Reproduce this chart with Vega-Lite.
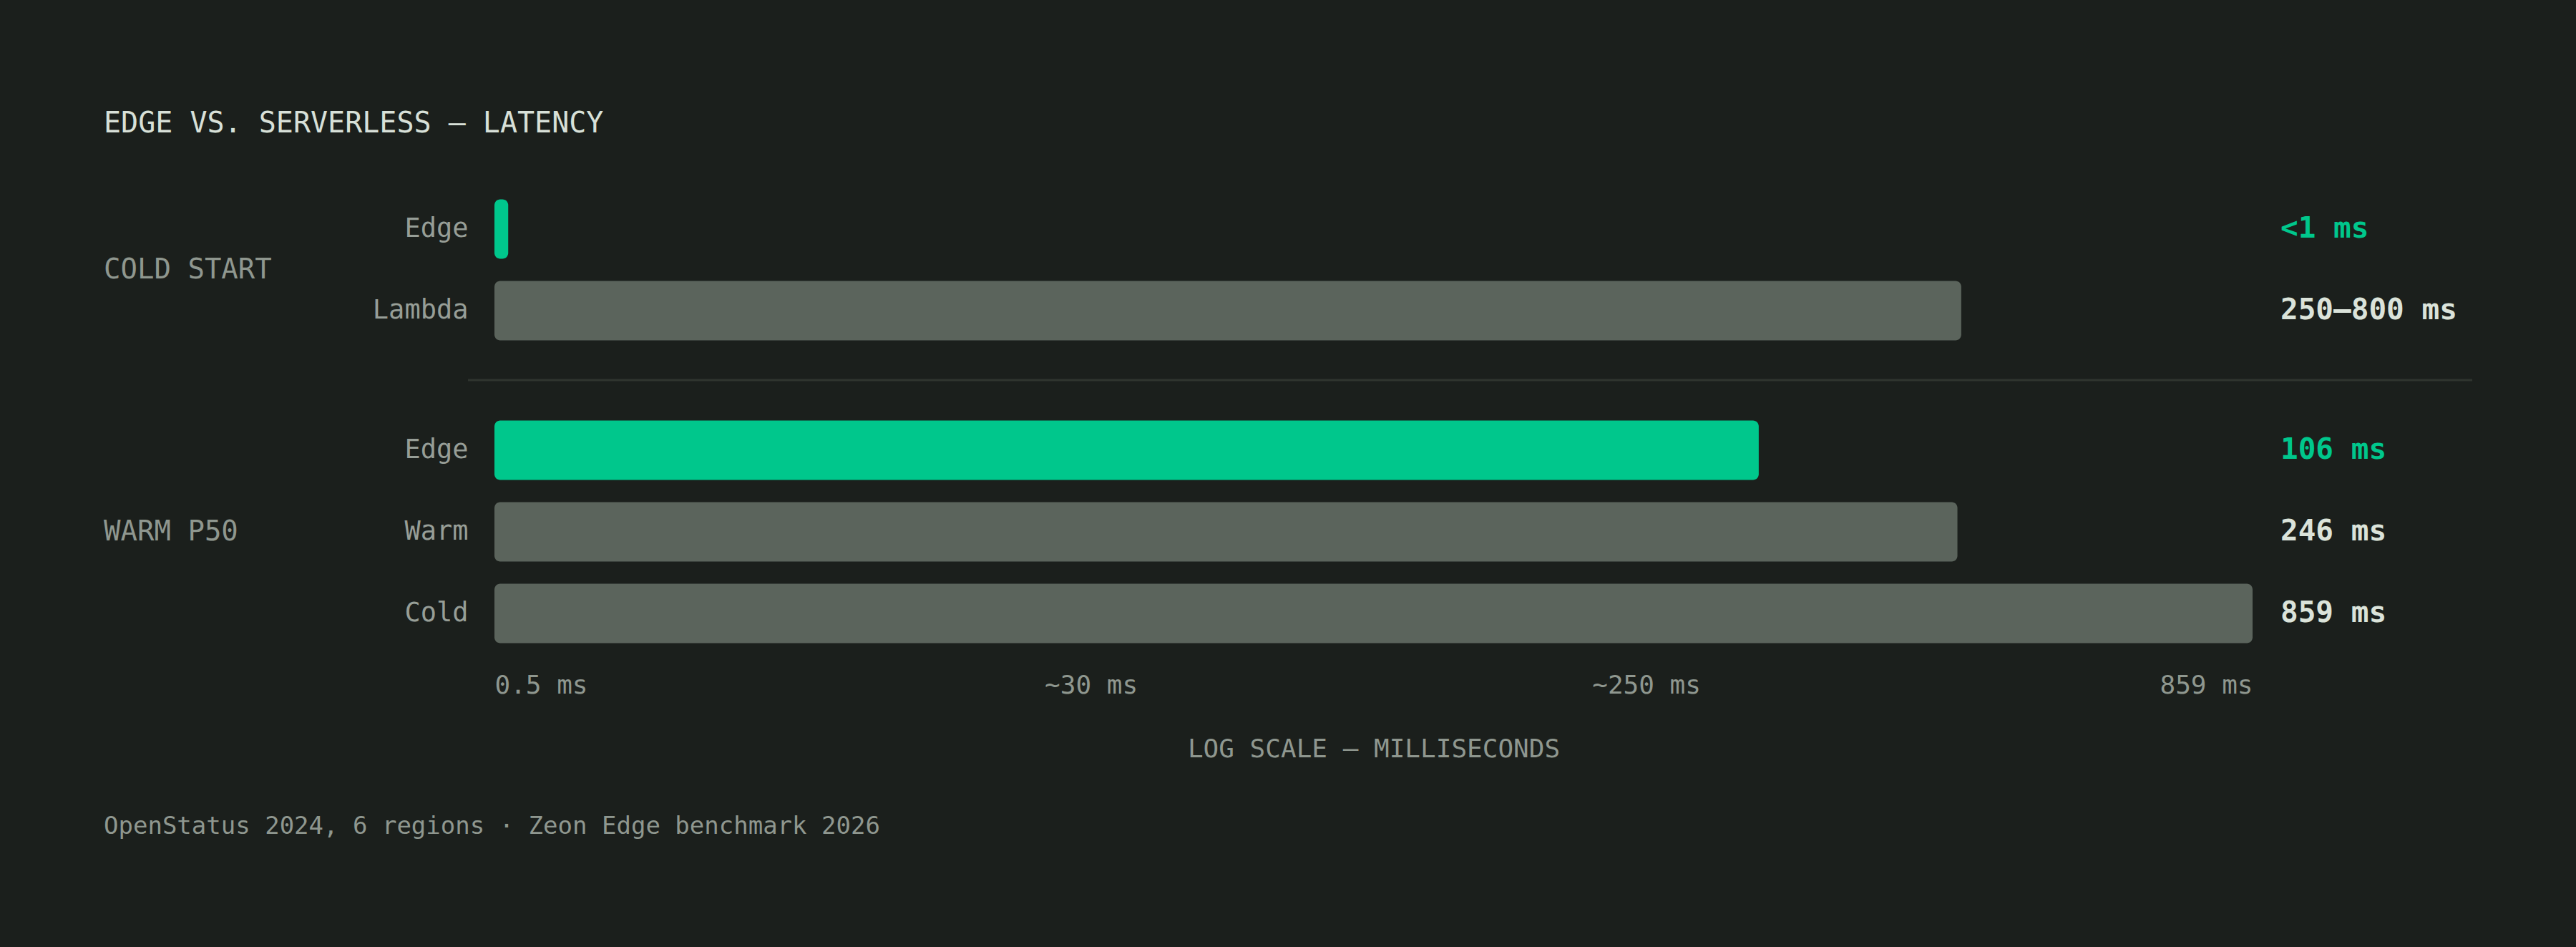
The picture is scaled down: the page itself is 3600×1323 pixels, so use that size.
{
  "$schema": "https://vega.github.io/schema/vega-lite/v6.json",
  "description": "Edge vs. serverless latency, log-scale horizontal bars grouped by cold start and warm p50.",
  "background": "#1b1f1c",
  "padding": {"left": 145, "top": 153, "right": 145, "bottom": 160},
  "title": {
    "text": "EDGE VS. SERVERLESS — LATENCY",
    "anchor": "start",
    "offset": 70,
    "fontSize": 40,
    "fontWeight": "normal",
    "font": "DejaVu Sans Mono",
    "color": "#d8e0d8"
  },
  "data": {
    "values": [
      {"group": "COLD START", "label": "Edge", "kind": "edge", "ms": 0.53, "display": "<1 ms"},
      {"group": "COLD START", "label": "Lambda", "kind": "serverless", "ms": 250, "display": "250–800 ms"},
      {"group": "WARM P50", "label": "Edge", "kind": "edge", "ms": 106, "display": "106 ms"},
      {"group": "WARM P50", "label": "Warm", "kind": "serverless", "ms": 246, "display": "246 ms"},
      {"group": "WARM P50", "label": "Cold", "kind": "serverless", "ms": 859, "display": "859 ms"}
    ]
  },
  "vconcat": [
    {
      "title": {
        "text": "OpenStatus 2024, 6 regions · Zeon Edge benchmark 2026",
        "orient": "bottom",
        "anchor": "start",
        "offset": 74,
        "fontSize": 34,
        "fontWeight": "normal",
        "font": "DejaVu Sans Mono",
        "color": "#8f978f"
      },
      "spacing": 38,
      "resolve": {"scale": {"y": "independent"}},
      "vconcat": [
        {
          "transform": [{"filter": "datum.group === 'COLD START'"}],
          "width": 2457,
          "height": 228,
          "layer": [
            {
              "mark": {"type": "bar", "cornerRadius": 8},
              "encoding": {
                "y": {
                  "field": "label",
                  "type": "nominal",
                  "sort": null,
                  "scale": {"paddingInner": 0.272, "paddingOuter": 0.136},
                  "axis": {
                    "title": null,
                    "domain": false,
                    "ticks": false,
                    "labelPadding": 37,
                    "labelFont": "DejaVu Sans Mono",
                    "labelFontSize": 37,
                    "labelColor": "#979e97"
                  }
                },
                "x": {
                  "field": "ms",
                  "type": "quantitative",
                  "scale": {"type": "log", "domain": [0.5, 859], "nice": false},
                  "axis": null
                },
                "x2": {"datum": 0.5},
                "color": {
                  "condition": {"test": "datum.kind === 'edge'", "value": "#00c78c"},
                  "value": "#5b645c"
                }
              }
            },
            {
              "mark": {"type": "text", "align": "left", "baseline": "middle", "dx": 39, "font": "DejaVu Sans Mono", "fontSize": 41, "fontWeight": "bold"},
              "encoding": {
                "y": {"field": "label", "type": "nominal", "sort": null},
                "x": {"datum": 859},
                "text": {"field": "display"},
                "color": {
                  "condition": {"test": "datum.kind === 'edge'", "value": "#00c78c"},
                  "value": "#dbe3da"
                }
              }
            },
            {
              "transform": [{"aggregate": [], "groupby": ["group"]}],
              "mark": {"type": "text", "align": "left", "baseline": "middle", "dx": -546, "font": "DejaVu Sans Mono", "fontSize": 39, "color": "#8f978f"},
              "encoding": {
                "x": {"datum": 0.5},
                "text": {"field": "group"}
              }
            }
          ]
        },
        {
          "transform": [{"filter": "datum.group === 'WARM P50'"}],
          "width": 2457,
          "height": 342,
          "layer": [
            {
              "mark": {"type": "bar", "cornerRadius": 8},
              "encoding": {
                "y": {
                  "field": "label",
                  "type": "nominal",
                  "sort": null,
                  "scale": {"paddingInner": 0.272, "paddingOuter": 0.136},
                  "axis": {
                    "title": null,
                    "domain": false,
                    "ticks": false,
                    "labelPadding": 37,
                    "labelFont": "DejaVu Sans Mono",
                    "labelFontSize": 37,
                    "labelColor": "#979e97"
                  }
                },
                "x": {
                  "field": "ms",
                  "type": "quantitative",
                  "scale": {"type": "log", "domain": [0.5, 859], "nice": false},
                  "axis": {
                    "values": [0.5, 6.26, 65.8, 859],
                    "labelExpr": "datum.value < 1 ? '0.5 ms' : datum.value < 10 ? '~30 ms' : datum.value < 100 ? '~250 ms' : '859 ms'",
                    "labelFlush": true,
                    "grid": false,
                    "domain": false,
                    "ticks": false,
                    "labelPadding": 26,
                    "labelFont": "DejaVu Sans Mono",
                    "labelFontSize": 36,
                    "labelColor": "#8f978f",
                    "title": "LOG SCALE — MILLISECONDS",
                    "titleFont": "DejaVu Sans Mono",
                    "titleFontSize": 36,
                    "titleFontWeight": "normal",
                    "titleColor": "#8f978f",
                    "titlePadding": 54
                  }
                },
                "x2": {"datum": 0.5},
                "color": {
                  "condition": {"test": "datum.kind === 'edge'", "value": "#00c78c"},
                  "value": "#5b645c"
                }
              }
            },
            {
              "mark": {"type": "text", "align": "left", "baseline": "middle", "dx": 39, "font": "DejaVu Sans Mono", "fontSize": 41, "fontWeight": "bold"},
              "encoding": {
                "y": {"field": "label", "type": "nominal", "sort": null},
                "x": {"datum": 859},
                "text": {"field": "display"},
                "color": {
                  "condition": {"test": "datum.kind === 'edge'", "value": "#00c78c"},
                  "value": "#dbe3da"
                }
              }
            },
            {
              "transform": [{"aggregate": [], "groupby": ["group"]}],
              "mark": {"type": "text", "align": "left", "baseline": "middle", "dx": -546, "font": "DejaVu Sans Mono", "fontSize": 39, "color": "#8f978f"},
              "encoding": {
                "x": {"datum": 0.5},
                "text": {"field": "group"}
              }
            },
            {
              "transform": [{"filter": "datum.label === 'Edge'"}],
              "mark": {"type": "rule", "color": "#30352f", "strokeWidth": 3, "yOffset": -98, "xOffset": -37, "x2Offset": 307},
              "encoding": {
                "y": {"field": "label", "type": "nominal", "sort": null},
                "x": {"datum": 0.5},
                "x2": {"datum": 859}
              }
            }
          ]
        }
      ]
    }
  ],
  "config": {
    "view": {"stroke": null},
    "font": "DejaVu Sans Mono"
  }
}
